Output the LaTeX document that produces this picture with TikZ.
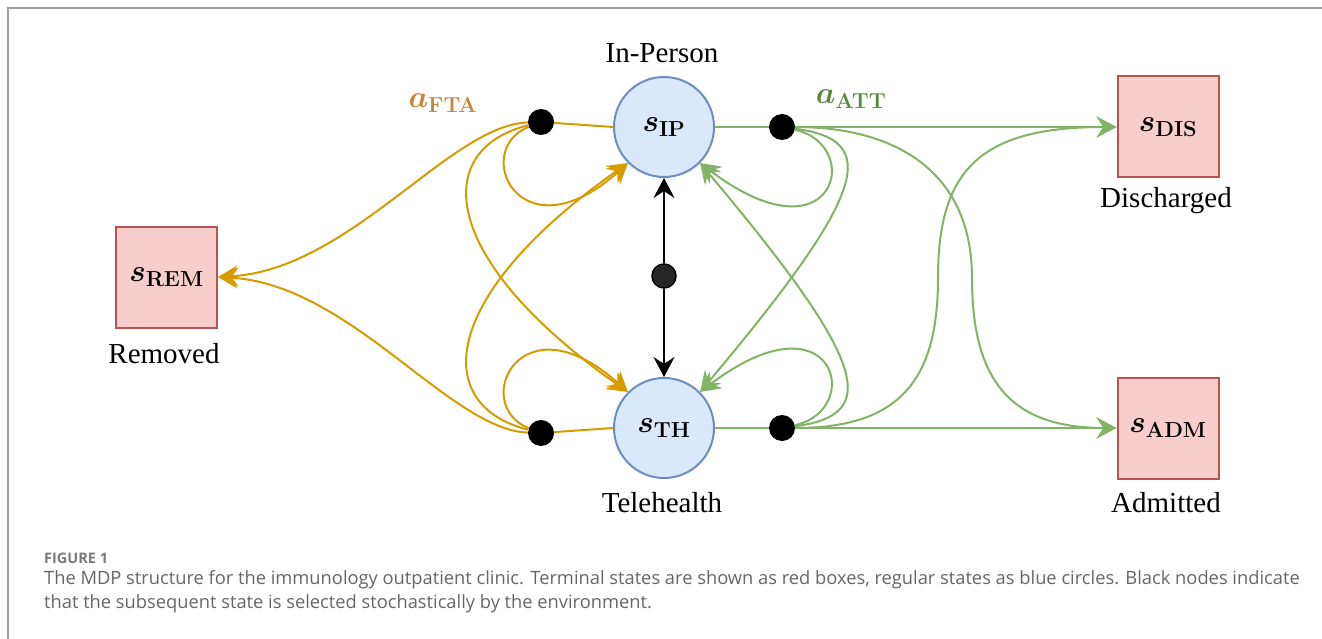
\RequirePackage{fix-cm}
\documentclass[tikz,border=0pt]{standalone}
\usepackage[no-math]{fontspec}
\usepackage{bm}
\usetikzlibrary{arrows.meta}
\newfontfamily\lblfont{Liberation Serif}
\newfontfamily\capfont{Open Sans}
\definecolor{ftac}{HTML}{D79B00}
\definecolor{attc}{HTML}{82B366}
\definecolor{ftatxt}{HTML}{C8843A}
\definecolor{atttxt}{HTML}{5A8A3C}
\definecolor{ipfill}{HTML}{DAE8FC}
\definecolor{ipdraw}{HTML}{6C8EBF}
\definecolor{tfill}{HTML}{F8CECC}
\definecolor{tdraw}{HTML}{B85450}
\definecolor{captxt}{HTML}{666666}
\definecolor{figtxt}{HTML}{7A7A7A}
\begin{document}
\begin{tikzpicture}[x=1pt,y=-1pt,
  state/.style={circle,draw=ipdraw,fill=ipfill,line width=2pt,minimum size=100pt,inner sep=0pt,font=\fontsize{31}{36}\selectfont},
  term/.style={rectangle,draw=tdraw,fill=tfill,line width=2pt,minimum size=101pt,inner sep=0pt,font=\fontsize{31}{36}\selectfont},
  chance/.style={circle,fill=black,minimum size=26pt,inner sep=0pt},
  lbl/.style={font=\lblfont\fontsize{29}{34}\selectfont},
  fta/.style={draw=ftac,line width=2pt},
  att/.style={draw=attc,line width=2pt},
  tip/.style={-{Stealth[length=20pt,width=21pt,inset=7pt]}},
  capstyle/.style={anchor=west,inner sep=0pt,text=captxt},
]
\useasboundingbox (0,0) rectangle (1322,639);
\draw[gray!75,line width=1.5pt] (8,639) -- (8,8) -- (1322,8);

% states
\node[state] (IP) at (664,127) {$\bm{s}_{\mathbf{IP}}$};
\node[state] (TH) at (664,428) {$\bm{s}_{\mathbf{TH}}$};
\node[term] (REM) at (166.5,277) {$\bm{s}_{\mathbf{REM}}$};
\node[term] (DIS) at (1168,127) {$\bm{s}_{\mathbf{DIS}}$};
\node[term] (ADM) at (1168,428) {$\bm{s}_{\mathbf{ADM}}$};
\node[chance] (fta1) at (541,122) {};
\node[chance] (fta2) at (541,433) {};
\node[chance] (att1) at (782,127) {};
\node[chance] (att2) at (782,428) {};
\node[circle,fill=black!85,draw=black,line width=1.5pt,minimum size=24pt,inner sep=0pt] (mid) at (664,276) {};

% labels
\node[lbl] (lIP) at (662,53) {In-Person};
\node[lbl] (lTH) at (662,503) {Telehealth};
\node[lbl] (lREM) at (164,354) {Removed};
\node[lbl] (lDIS) at (1166,201) {Discharged};
\node[lbl] (lADM) at (1166,503) {Admitted};
\node[text=ftatxt,font=\fontsize{31}{36}\selectfont] (aFTA) at (443,103) {$\bm{a}_{\mathbf{FTA}}$};
\node[text=atttxt,font=\fontsize{31}{36}\selectfont] (aATT) at (851,99) {$\bm{a}_{\mathbf{ATT}}$};

% black
\draw[line width=2pt,tip] (mid) -- (IP);
\draw[line width=2pt,tip] (mid) -- (TH);

% orange
\draw[fta] (IP.west) -- (fta1);
\draw[fta] (TH.west) -- (fta2);
\draw[fta,tip] (fta1) .. controls (450,125) and (350,270) .. (REM.east);
\draw[fta,tip] (fta2) .. controls (450,430) and (350,284) .. (REM.east);
\draw[fta,tip] (fta1) .. controls (470,150) and (520,260) .. (IP.225);
\draw[fta,tip] (fta1) .. controls (430,150) and (440,260) .. (TH.135);
\draw[fta,tip] (fta2) .. controls (470,405) and (520,295) .. (TH.135);
\draw[fta,tip] (fta2) .. controls (430,405) and (440,295) .. (IP.225);

% green
\draw[att] (IP.east) -- (att1);
\draw[att] (TH.east) -- (att2);
\draw[att,tip] (att1) -- (DIS.west);
\draw[att,tip] (att2) -- (ADM.west);
\draw[att,tip] (att1) .. controls (865,145) and (835,265) .. (IP.-45);
\draw[att,tip] (att1) .. controls (880,140) and (870,190) .. (TH.45);
\draw[att,tip] (att2) .. controls (865,410) and (835,290) .. (TH.45);
\draw[att,tip] (att2) .. controls (880,415) and (870,365) .. (IP.-45);
\draw[att,tip] (att1) .. controls (900,127) and (972,175) .. (972,278)
                      .. controls (972,380) and (1010,428) .. (ADM.west);
\draw[att,tip] (att2) .. controls (900,428) and (938,380) .. (938,278)
                      .. controls (938,170) and (980,127) .. (DIS.west);

% caption
\node[capstyle,text=figtxt,font=\capfont\bfseries\fontsize{14.5}{17}\selectfont] (fig) at (44,558) {FIGURE 1};
\node[capstyle,font=\capfont\fontsize{18.3}{22}\selectfont] (cap1) at (44,580) {The MDP structure for the immunology outpatient clinic. Terminal states are shown as red boxes, regular states as blue circles. Black nodes indicate};
\node[capstyle,font=\capfont\fontsize{18.3}{22}\selectfont] (cap2) at (44,604) {that the subsequent state is selected stochastically by the environment.};
\end{tikzpicture}
\end{document}
